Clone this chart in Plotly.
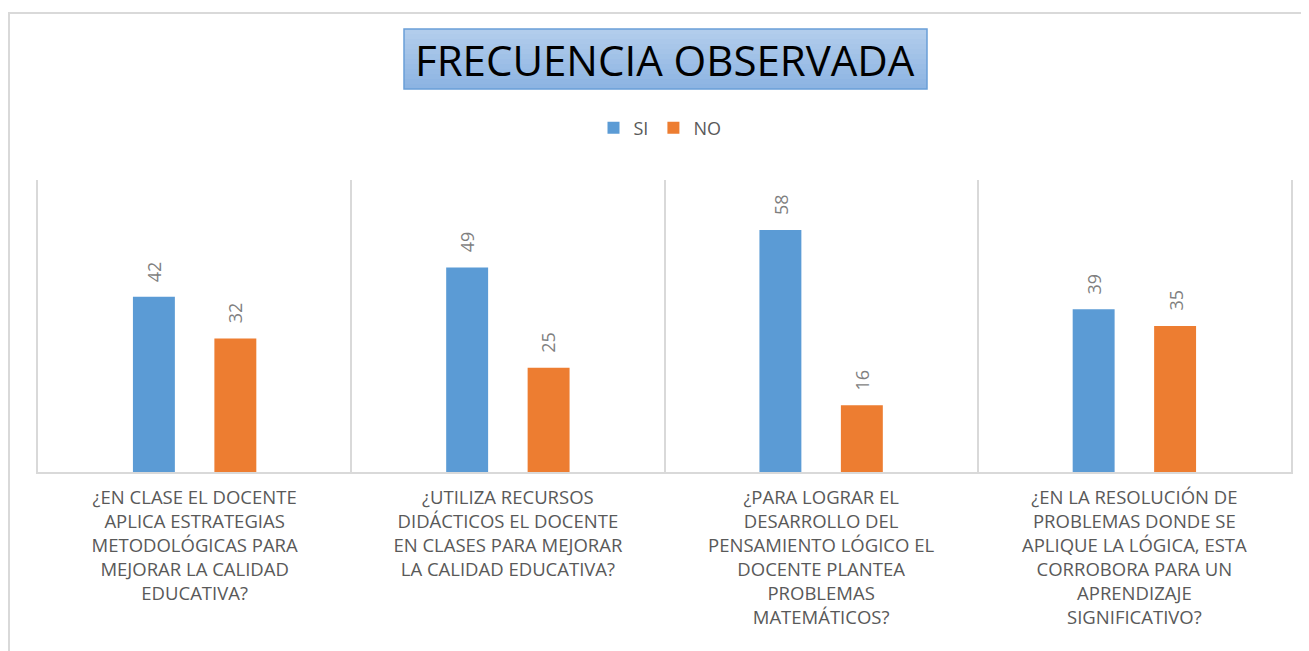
import plotly.graph_objects as go

categories = [
    "¿EN CLASE EL DOCENTE<br>APLICA ESTRATEGIAS<br>METODOLÓGICAS PARA<br>MEJORAR LA CALIDAD<br>EDUCATIVA?",
    "¿UTILIZA RECURSOS<br>DIDÁCTICOS EL DOCENTE<br>EN CLASES PARA MEJORAR<br>LA CALIDAD EDUCATIVA?",
    "¿PARA LOGRAR EL<br>DESARROLLO DEL<br>PENSAMIENTO LÓGICO EL<br>DOCENTE PLANTEA<br>PROBLEMAS<br>MATEMÁTICOS?",
    "¿EN LA RESOLUCIÓN DE<br>PROBLEMAS DONDE SE<br>APLIQUE LA LÓGICA, ESTA<br>CORROBORA PARA UN<br>APRENDIZAJE<br>SIGNIFICATIVO?",
]
si_values = [42, 49, 58, 39]
no_values = [32, 25, 16, 35]

FONT = "Open Sans"
GRAY = "#595959"
W, H = 1309, 651
OFF = 8  # the page body adds an 8px margin around the figure
ML, MT = 38 - OFF, 180 - OFF
PW, PH = 1253, 292
MR, MB = W - ML - PW, H - MT - PH
BARGAP = 0.48


def px_x(px):
    return (px - OFF - ML) / PW


def px_y(py):
    return (MT + PH - (py - OFF)) / PH


fig = go.Figure()
fig.add_trace(go.Bar(x=categories, y=si_values, name="SI",
                     marker=dict(color="#5b9bd5", line=dict(width=0))))
fig.add_trace(go.Bar(x=categories, y=no_values, name="NO",
                     marker=dict(color="#ed7d31", line=dict(width=0))))

# rotated value labels above each bar
slot = PW / len(categories) * (1 - BARGAP) / 2
for vals, shift in ((si_values, -slot / 2), (no_values, slot / 2)):
    for cat, v in zip(categories, vals):
        fig.add_annotation(x=cat, y=v, text=str(v), textangle=-90,
                           showarrow=False, xanchor="center", yanchor="bottom",
                           xshift=shift, yshift=13,
                           font=dict(family=FONT, size=18, color="#7f7f7f"))

# outer chart border
fig.add_shape(type="rect", xref="paper", yref="paper",
              x0=px_x(9), x1=px_x(1320), y0=px_y(670), y1=px_y(13),
              line=dict(color="#d9d9d9", width=2), layer="below")

# title box with a simple vertical gradient
top, bot = 29, 89
steps = 12
c0, c1 = (178, 205, 236), (141, 180, 226)
for i in range(steps):
    t = i / (steps - 1)
    col = "rgb({},{},{})".format(*[round(a + (b - a) * t) for a, b in zip(c0, c1)])
    y0 = top + (bot - top) * i / steps
    y1 = top + (bot - top) * (i + 1) / steps
    fig.add_shape(type="rect", xref="paper", yref="paper",
                  x0=px_x(404), x1=px_x(927), y0=px_y(y1), y1=px_y(y0),
                  fillcolor=col, line=dict(width=0), layer="below")
fig.add_shape(type="rect", xref="paper", yref="paper",
              x0=px_x(404), x1=px_x(927), y0=px_y(bot), y1=px_y(top),
              line=dict(color="#6a9fd8", width=1.5))
fig.add_annotation(text="FRECUENCIA OBSERVADA", xref="paper", yref="paper",
                   x=px_x(665), y=px_y(60), showarrow=False,
                   xanchor="center", yanchor="middle",
                   font=dict(family=FONT, size=42, color="#000000"))

fig.update_layout(
    width=W, height=H,
    margin=dict(l=ML, r=MR, t=MT, b=MB, autoexpand=False),
    paper_bgcolor="white", plot_bgcolor="white",
    barmode="group", bargap=BARGAP, bargroupgap=0.485,
    showlegend=True,
    legend=dict(orientation="h", x=px_x(660), xanchor="center",
                y=px_y(128), yanchor="middle",
                font=dict(family=FONT, size=18, color=GRAY)),
)
fig.update_xaxes(
    tickson="boundaries", showgrid=True, gridcolor="#d9d9d9", gridwidth=1.5,
    showline=True, linecolor="#d9d9d9", linewidth=1.5,
    ticks="", ticklabelstandoff=8,
    tickfont=dict(family=FONT, size=18.5, color=GRAY),
)
fig.update_yaxes(range=[0, 70], showgrid=False, zeroline=False,
                 showticklabels=False, ticks="",
                 showline=True, mirror=True, linecolor="#d9d9d9", linewidth=1.5)

fig.write_html("out.html")
